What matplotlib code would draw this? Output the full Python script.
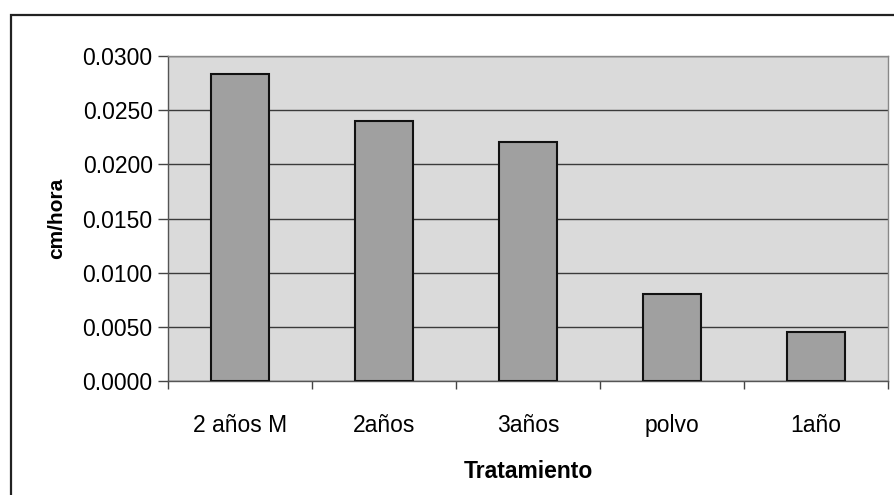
import matplotlib.pyplot as plt
from matplotlib.patches import Rectangle
from matplotlib.ticker import FixedLocator, FormatStrFormatter

plt.rcParams["font.family"] = ["Liberation Sans", "DejaVu Sans"]

# Crecimiento medio por tratamiento
tratamientos = ["2 años M", "2años", "3años", "polvo", "1año"]
cm_hora = [0.0283, 0.0240, 0.0221, 0.0080, 0.0045]
y_ticks = [0.0, 0.005, 0.010, 0.015, 0.020, 0.025, 0.030]

fig = plt.figure(figsize=(8.94, 4.95), dpi=100)
ax = fig.add_axes([168 / 894, 1 - 381 / 495, 720 / 894, 325 / 495])

ax.set_facecolor("#dadada")
x = range(len(tratamientos))
ax.bar(x, cm_hora, width=0.4, color="#a0a0a0", edgecolor="#111111",
       linewidth=1.5, zorder=3)

ax.set_xlim(-0.5, len(tratamientos) - 0.5)
ax.set_ylim(0, 0.030)
ax.yaxis.set_major_locator(FixedLocator(y_ticks))
ax.yaxis.set_major_formatter(FormatStrFormatter("%.4f"))
ax.grid(axis="y", color="#3a3a3a", linewidth=1.0, zorder=1)

# category labels at centers, tick marks on the boundaries
ax.set_xticks(list(x))
ax.set_xticklabels(tratamientos)
ax.set_xticks([i - 0.5 for i in range(len(tratamientos) + 1)], minor=True)
ax.tick_params(axis="x", which="major", length=0, pad=24, labelsize=16.5)
ax.tick_params(axis="x", which="minor", length=6, width=1, color="#444444",
               direction="out")
ax.tick_params(axis="y", length=7, width=1, color="#444444", pad=4,
               labelsize=16.5)

for side in ("left", "bottom"):
    ax.spines[side].set_color("#555555")
    ax.spines[side].set_linewidth(1.0)
for side in ("top", "right"):
    ax.spines[side].set_color("#888888")
    ax.spines[side].set_linewidth(1.0)

ax.set_xlabel("Tratamiento", fontsize=16.5, fontweight="bold", labelpad=16)
ax.set_ylabel("cm/hora", fontsize=15, fontweight="bold", labelpad=12)

# chart border
fig.patches.append(Rectangle((11 / 894, -0.05), 1.0, 1 - 15 / 495 + 0.05,
                             transform=fig.transFigure, fill=False,
                             edgecolor="#222222", linewidth=1.6))

fig.savefig("out.png", dpi=100)
